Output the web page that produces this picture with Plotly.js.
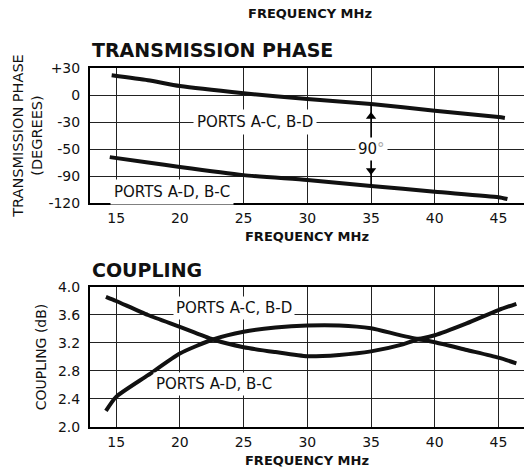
<!DOCTYPE html>
<html><head><meta charset="utf-8">
<script src="https://cdn.plot.ly/plotly-3.0.1.min.js"></script>
<style>html,body{margin:0;padding:0;background:#fff}#chart{width:524px;height:475px}</style>
</head><body><div id="chart"></div>
<script>
// Axis ticks
const freqTicks = [15, 20, 25, 30, 35, 40, 45];
const phaseTickVals = [30, 0, -30, -60, -90, -120];
const phaseTickText = ['+30', '0', '-30', '-50', '-90', '-120'];
const couplingTicks = [2.0, 2.4, 2.8, 3.2, 3.6, 4.0];

// Transmission phase (degrees)
const phaseACBDFreq = [14.65, 17.5, 20, 25, 30, 35, 40, 45, 45.5];
const phaseACBD     = [22, 16.5, 10, 2, -4.5, -10, -17.5, -24.5, -25.5];
const phaseADBCFreq = [14.5, 17.5, 20, 25, 30, 35, 40, 45, 45.7];
const phaseADBC     = [-69, -75, -80, -89, -94.5, -101, -107.5, -113.5, -115.5];

// 90 degree marker between the two phase curves at 35 MHz
const markerFreq = [35, 35];
const markerSpan = [-10, -101];
const markerHeads = [-24, -84];

// Coupling (dB)
const coupACBDFreq = [14.2, 15, 17.5, 20, 22.6, 25, 27.5, 30, 32.5, 35, 37.5, 38.7, 40, 42.5, 45, 46.4];
const coupACBD     = [3.86, 3.80, 3.60, 3.43, 3.25, 3.14, 3.07, 3.01, 3.03, 3.08, 3.18, 3.25, 3.21, 3.10, 2.99, 2.91];
const coupADBCFreq = [14.2, 15, 17.5, 20, 22.6, 25, 27.5, 30, 32.5, 35, 38.7, 40, 42.5, 45, 46.4];
const coupADBC     = [2.23, 2.43, 2.74, 3.05, 3.25, 3.36, 3.42, 3.45, 3.45, 3.41, 3.26, 3.31, 3.48, 3.67, 3.76];

const FONT = 'DejaVu Sans, Liberation Sans, Arial, sans-serif';

function curveLine() { return {color: '#111', width: 4, shape: 'spline', smoothing: 0.6}; }

function buildTraces() {
  return [
    {x: phaseACBDFreq.slice(), y: phaseACBD.slice(), xaxis: 'x', yaxis: 'y', mode: 'lines', line: curveLine(), hoverinfo: 'skip'},
    {x: phaseADBCFreq.slice(), y: phaseADBC.slice(), xaxis: 'x', yaxis: 'y', mode: 'lines', line: curveLine(), hoverinfo: 'skip'},
    {x: markerFreq.slice(), y: markerSpan.slice(), xaxis: 'x', yaxis: 'y', mode: 'lines', line: {color: '#000', width: 1.5}, hoverinfo: 'skip'},
    {x: markerFreq.slice(), y: markerHeads.slice(), xaxis: 'x', yaxis: 'y', mode: 'markers', hoverinfo: 'skip',
      marker: {symbol: ['triangle-up', 'triangle-down'], size: 9, color: '#000'}},
    {x: coupACBDFreq.slice(), y: coupACBD.slice(), xaxis: 'x2', yaxis: 'y2', mode: 'lines', line: curveLine(), hoverinfo: 'skip'},
    {x: coupADBCFreq.slice(), y: coupADBC.slice(), xaxis: 'x2', yaxis: 'y2', mode: 'lines', line: curveLine(), hoverinfo: 'skip'}
  ];
}

function xAxis(anchor, domain) {
  return {
    anchor: anchor, domain: domain,
    range: [12.95, 47.0], tickmode: 'array', tickvals: freqTicks.slice(),
    ticks: 'outside', ticklen: 1, tickcolor: 'rgba(0,0,0,0)',
    showgrid: true, gridcolor: '#222222', gridwidth: 1, zeroline: false,
    showline: true, mirror: true, linecolor: '#000000', linewidth: 2,
    tickfont: {family: FONT, size: 14, color: '#111'},
    title: {text: 'FREQUENCY MHz', font: {family: FONT, size: 13, weight: 700, color: '#111'}, standoff: 7}
  };
}
function yAxis(anchor, domain) {
  return {
    anchor: anchor, domain: domain,
    ticks: 'outside', ticklen: 5, tickcolor: 'rgba(0,0,0,0)',
    showgrid: true, gridcolor: '#222222', gridwidth: 1, zeroline: false,
    showline: true, linecolor: '#000000', linewidth: 2,
    tickfont: {family: FONT, size: 14, color: '#111'}
  };
}

function buildLayout() {
  const ya = yAxis('x', [0.5726, 0.8568]);
  ya.range = [-120, 30]; ya.tickmode = 'array'; ya.tickvals = phaseTickVals.slice(); ya.ticktext = phaseTickText.slice();
  ya.title = {text: 'TRANSMISSION PHASE<br>(DEGREES)', font: {family: FONT, size: 14.5, color: '#111'}, standoff: 2};
  const ya2 = yAxis('x2', [0.1011, 0.3958]);
  ya2.range = [2.0, 4.0]; ya2.tickmode = 'array'; ya2.tickvals = couplingTicks.slice(); ya2.tickformat = '.1f';
  ya2.title = {text: 'COUPLING (dB)', font: {family: FONT, size: 14, color: '#111'}, standoff: 8};
  const lbl = {family: FONT, size: 15, color: '#111'};
  return {
    width: 524, height: 475,
    margin: {l: 90, r: 0, t: 0, b: 0},
    paper_bgcolor: '#fff', plot_bgcolor: '#fff',
    showlegend: false,
    xaxis: xAxis('y', [0, 1]),
    yaxis: ya,
    xaxis2: xAxis('y2', [0, 1]),
    yaxis2: ya2,
    annotations: [
      {xref: 'paper', yref: 'paper', x: 0.507, y: 1 - 13/475, text: '<b>FREQUENCY MHz</b>', showarrow: false,
        font: {family: FONT, size: 13, color: '#111'}, xanchor: 'center', yanchor: 'middle'},
      {xref: 'paper', yref: 'paper', x: 0, y: 1 - 50/475, text: '<b>TRANSMISSION PHASE</b>', showarrow: false,
        font: {family: FONT, size: 19, color: '#111'}, xanchor: 'left', yanchor: 'middle'},
      {xref: 'paper', yref: 'paper', x: 0, y: 1 - 270/475, text: '<b>COUPLING</b>', showarrow: false,
        font: {family: FONT, size: 19, color: '#111'}, xanchor: 'left', yanchor: 'middle'},
      {xref: 'x', yref: 'y', x: 25.9, y: -30, text: 'PORTS A-C, B-D', showarrow: false, bgcolor: '#fff', borderpad: 3, font: lbl},
      {xref: 'x', yref: 'y', x: 19.4, y: -107.5, text: 'PORTS A-D, B-C', showarrow: false, bgcolor: '#fff', borderpad: 3, font: lbl},
      {xref: 'x', yref: 'y', x: 35, y: -60, text: '90<span style="color:#aaa">°</span>', showarrow: false, bgcolor: '#fff', borderpad: 2, font: lbl},
      {xref: 'x2', yref: 'y2', x: 24.25, y: 3.70, text: 'PORTS A-C, B-D', showarrow: false, bgcolor: '#fff', borderpad: 2, font: lbl},
      {xref: 'x2', yref: 'y2', x: 22.7, y: 2.61, text: 'PORTS A-D, B-C', showarrow: false, bgcolor: '#fff', borderpad: 2, font: lbl}
    ]
  };
}

const gd = document.getElementById('chart');
const config = {displayModeBar: false};
function render() {
  try { Plotly.purge(gd); } catch (e) {}
  return Plotly.newPlot(gd, buildTraces(), buildLayout(), config);
}
render();
// Re-render once fonts are settled so axes, grid and labels are measured with final metrics.
const fontsReady = (document.fonts && document.fonts.ready) ? document.fonts.ready : Promise.resolve();
fontsReady.then(function () {
  setTimeout(function () {
    render().then(function () {
      setTimeout(function () {
        if (!gd.querySelector('.xgrid') || !gd.querySelector('.ygrid')) { render(); }
      }, 300);
    });
  }, 250);
});
</script>
</body></html>
